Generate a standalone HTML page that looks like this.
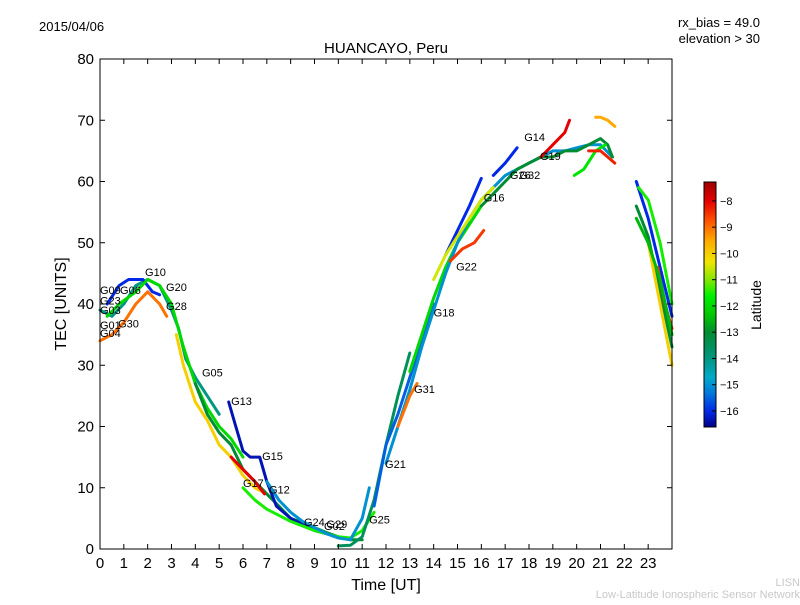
<!DOCTYPE html>
<html><head><meta charset="utf-8"><style>
body{margin:0;background:#fff;}
svg text{font-family:"Liberation Sans","DejaVu Sans",sans-serif;}
</style></head><body>
<svg id="chart" width="800" height="600" xmlns="http://www.w3.org/2000/svg">
<rect width="800" height="600" fill="#fff"/>
<text x="39" y="31" font-size="13">2015/04/06</text>
<text x="760" y="27" font-size="13" text-anchor="end">rx_bias = 49.0</text>
<text x="760" y="43" font-size="13" text-anchor="end">elevation &gt; 30</text>
<text x="386" y="53" font-size="15" text-anchor="middle">HUANCAYO, Peru</text>
<text x="386" y="590" font-size="16" text-anchor="middle">Time [UT]</text>
<text transform="translate(66,304) rotate(-90)" font-size="16" text-anchor="middle">TEC [UNITS]</text>
<text x="800" y="586" font-size="11" fill="#c8c8c8" text-anchor="end">LISN</text>
<text x="800" y="598" font-size="11" fill="#c8c8c8" text-anchor="end">Low-Latitude Ionospheric Sensor Network</text>
<g id="plot"></g>
<g id="axes"></g>
<g id="cbar"></g>
</svg>
<script>
const xTicks=[0,1,2,3,4,5,6,7,8,9,10,11,12,13,14,15,16,17,18,19,20,21,22,23];
const yTicks=[0,10,20,30,40,50,60,70,80];
const cbTicks=[-8,-9,-10,-11,-12,-13,-14,-15,-16];
const traceLat=[-14,-16,-12,-9,-10,-13,-16.3,-11.5,-8,-15,-13.5,-15.5,-12,-15,-9,-16,-8.5,-10.5,-13,-16,-8,-9.5,-11.8,-8.3,-16,-11.5,-13,-10,-8.5,-12.5];
const traceTime=[
[0,0.5,1,1.5,2,2.5,3,3.3,3.6,4,4.5,5],
[0.3,0.8,1.2,1.8,2.2,2.5],
[0.3,0.8,1.5,2,2.5,3,3.5,4,4.5,5,5.5,6],
[0,0.5,1,1.5,2,2.5,2.8],
[3.2,3.5,4,4.5,5,5.5,6,6.5,7],
[4,4.5,5,5.5,6,6.5,7,7.5,8,8.5,9,9.5,10,10.5,11],
[5.4,5.7,6,6.3,6.7,7,7.4,8,8.5,9,9.5,10],
[6,6.5,7,7.5,8,9,10,10.5,11,11.5],
[5.5,6,6.5,6.9],
[7,7.5,8,8.5,9,9.5,10,10.5,11,11.3],
[10,10.5,11,11.5,12,12.5,13],
[11.5,12,12.5,13,13.5,14],
[13,13.5,14,14.5,15,15.5,16],
[12,12.5,13,13.5,14,14.5,15,15.5,16,16.5,17,17.5,18,18.5,19,19.5,20,20.5,21,21.5],
[12.5,13,13.3],
[14.5,15,15.5,16],
[14.7,15.2,15.7,16.1],
[14,14.5,15,15.5,16,16.5],
[16,16.5,17,17.5,18,18.5,19,19.5,20,20.5,21,21.3,21.5],
[16.5,17,17.5],
[18.5,19,19.5,19.7],
[20.8,21,21.3,21.6],
[19.9,20.3,20.8,21.2],
[20.5,21,21.3,21.6],
[22.5,23,23.5,24],
[22.6,23,23.5,24],
[22.5,23,23.5,24],
[23,23.5,24],
[23.4,23.7,24],
[22.5,23,23.5,24]];
const traceTec=[
[39,38,40,43,44,43,39,36,31,28,25,22],
[40,43,44,44,42,41.5],
[38,40,42,44,43,40,33,27,23,20,18,15],
[34,35,37,40,42,40,38],
[35,30,24,21,17,15,12,10,9],
[27,22,19,17,13,11,9,7,5,4.3,3.5,2.7,2,1.5,1.5],
[24,20,16,15,15,11,7,5,4,3,2.5,2],
[10,8,6.5,5.5,4.5,3,2,1.8,3,6],
[15,13,11,9],
[11,8,6,4.5,3.5,2.5,1.8,1.5,5,10],
[0.5,0.6,2,8,17,25,32],
[7,17,22,28,34,40],
[29,35,41,46,50,53,56],
[14,20,26,33,39,45,50,54,57,59,61,62,63,64,65,65,65.5,66,66,64],
[20,25,27],
[48,52,56,60.5],
[47,49,50,52],
[44,48,51,54,57,59],
[56,58,60,62,63,64,64,65,65,66,67,66,64],
[61,63,65.5],
[64,66,68,70],
[70.5,70.5,70,69],
[61,62,65,66],
[65,65,64,63],
[60,54,46,38],
[59,57,50,40],
[56,51,42,33],
[50,40,30],
[46,40,36],
[54,50,44,35]];
const labelNames=["G09","G06","G10","G20","G28","G23","G03","G01","G04","G30","G05","G13","G15","G17","G12","G24","G02","G29","G25","G21","G31","G18","G22","G16","G14","G19","G26","G32"];
const labelTime=[0,0.84,1.89,2.77,2.77,0,0,0,0,0.76,4.28,5.5,6.8,6.0,7.09,8.56,9.4,9.5,11.29,11.96,13.18,14.0,14.94,16.1,17.8,18.46,17.2,17.6];
const labelTec=[41.6,41.6,44.6,42.1,39,39.9,38.4,35.9,34.6,36.2,28.2,23.5,14.5,10.1,9.1,3.75,3.1,3.4,4.2,13.2,25.5,38,45.5,56.7,66.6,63.5,60.4,60.4];

const L=100,R=672,T=59,B=549;
const xS=t=>L+(R-L)*t/24, yS=v=>B-(B-T)*v/80;
const cbTop=182,cbBot=427,cbMax=-7.28,cbMin=-16.61;
const cbY=v=>cbTop+(cbMax-v)/(cbMax-cbMin)*(cbBot-cbTop);
const cmap=[[-16.61,0,0,130],[-16,0,40,230],[-15.3,0,120,220],[-14.7,0,170,200],[-14,0,150,130],[-13,0,140,50],[-12.3,0,200,0],[-11.6,0,240,0],[-11,130,230,0],[-10.3,240,230,0],[-9.5,255,170,0],[-8.8,255,90,0],[-8,230,0,0],[-7.28,160,0,0]];
function latColor(l){
 if(l<=cmap[0][0])return `rgb(${cmap[0][1]},${cmap[0][2]},${cmap[0][3]})`;
 for(let i=1;i<cmap.length;i++){if(l<=cmap[i][0]){const a=cmap[i-1],b=cmap[i],f=(l-a[0])/(b[0]-a[0]);
  const c=k=>Math.round(a[k]+(b[k]-a[k])*f);return `rgb(${c(1)},${c(2)},${c(3)})`;}}
 const z=cmap[cmap.length-1];return `rgb(${z[1]},${z[2]},${z[3]})`;}
const NS="http://www.w3.org/2000/svg";
function mk(tag,attrs,parent){const e=document.createElementNS(NS,tag);for(const k in attrs)e.setAttribute(k,attrs[k]);parent.appendChild(e);return e;}
const plot=document.getElementById('plot'),axes=document.getElementById('axes'),cbar=document.getElementById('cbar');
traceTime.forEach((ts,i)=>{
 const pts=ts.map((t,j)=>xS(t).toFixed(1)+','+yS(traceTec[i][j]).toFixed(1)).join(' ');
 const p=mk('polyline',{points:pts,fill:'none',stroke:latColor(traceLat[i]),'stroke-width':3,'stroke-linejoin':'round','stroke-linecap':'round'},plot);
 
 
});
labelNames.forEach((n,i)=>{
 const t=mk('text',{x:xS(labelTime[i]),y:yS(labelTec[i]),'font-size':11},plot);t.textContent=n;
 
 
});
const fr=mk('rect',{x:L,y:T,width:R-L,height:B-T,fill:'none',stroke:'#000','stroke-width':1},axes);


xTicks.forEach(v=>{const x=xS(v);
 mk('line',{x1:x,y1:B,x2:x,y2:B-5,stroke:'#000'},axes);mk('line',{x1:x,y1:T,x2:x,y2:T+5,stroke:'#000'},axes);
 const t=mk('text',{x:x,y:B+19,'font-size':15,'text-anchor':'middle'},axes);t.textContent=v;
 
 });
yTicks.forEach(v=>{const y=yS(v);
 mk('line',{x1:L,y1:y,x2:L+5,y2:y,stroke:'#000'},axes);mk('line',{x1:R,y1:y,x2:R-5,y2:y,stroke:'#000'},axes);
 const t=mk('text',{x:L-6,y:y+5,'font-size':15,'text-anchor':'end'},axes);t.textContent=v;
 
 });
for(let y=cbTop;y<cbBot;y++){mk('rect',{x:704,y:y,width:12,height:1.2,fill:latColor(cbMax-(y-cbTop)/(cbBot-cbTop)*(cbMax-cbMin))},cbar);}
mk('rect',{x:704,y:cbTop,width:12,height:cbBot-cbTop,fill:'none',stroke:'#000'},cbar);
cbTicks.forEach(v=>{const y=cbY(v);
 mk('line',{x1:712,y1:y,x2:716,y2:y,stroke:'#000'},cbar);
 const t=mk('text',{x:720,y:y+4,'font-size':11},cbar);t.textContent='\u2212'+Math.abs(v);
 
 });
const lt=mk('text',{transform:'translate(761,305) rotate(-90)','font-size':14,'text-anchor':'middle'},cbar);lt.textContent='Latitude';


</script>
</body></html>
